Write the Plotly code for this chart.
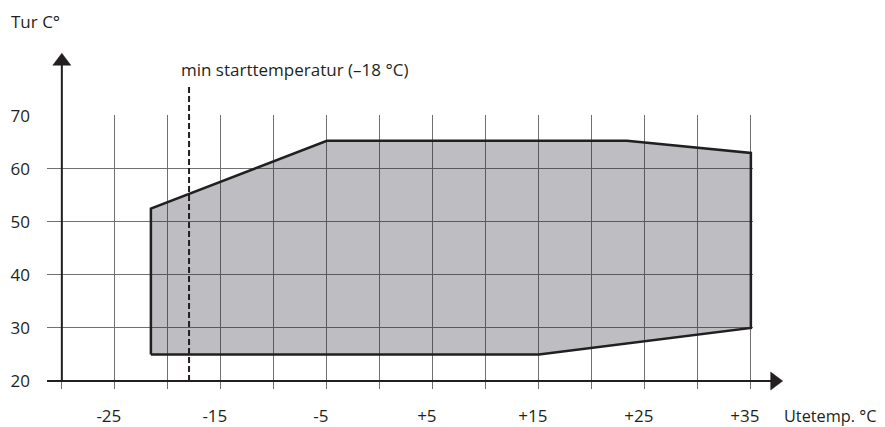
import plotly.graph_objects as go

# ---------------- data ----------------
envelope_outdoor = [-21.6, -21.6, -5, 23.3, 35, 35, 15, -21.6]
envelope_flow = [25, 52.5, 65.3, 65.3, 63, 30, 25, 25]
min_start_temp = -18
grid_x = [-30, -25, -20, -15, -10, -5, 0, 5, 10, 15, 20, 25, 30, 35]
labelled_x = [-25, -15, -5, 5, 15, 25, 35]
labelled_x_text = ["-25", "-15", "-5", "+5", "+15", "+25", "+35"]
y_ticks = [20, 30, 40, 50, 60, 70]
y_tick_text = ["20", "30", "40", "50", "60", "70"]

# ---------------- layout constants ----------------
# the page body has an 8px default margin, so the figure is sized to fit the window
OFF = 8
W, H = 885 - OFF, 427 - OFF
ML, MR, MT, MB = 47 - OFF, 132, 115 - OFF, 46
XR = [-31.4, 35.2]
YR = [20, 70.15]
FONT = "Open Sans"
FS = 17
INK = "#231f20"
GRID = "#707070"
PW, PH = W - ML - MR, H - MT - MB


def xp(v):
    return (v - XR[0]) / (XR[1] - XR[0])


def yp(v):
    return (v - YR[0]) / (YR[1] - YR[0])


def px_x(px):
    return (px - OFF - ML) / PW


def px_y(px):
    return 1 - (px - OFF - MT) / PH


y_axis_x = grid_x[0]
y_arrow_tip = 81.8     # data y of the y-axis arrow tip
x_arrow_tip = 38.0     # data x of the x-axis arrow tip
dash_top = 75.6
HEAD_LEN, HEAD_HALF = 12, 9   # arrow head size in pixels

tick_text = [labelled_x_text[labelled_x.index(v)] if v in labelled_x else "" for v in grid_x]

fig = go.Figure()

fig.add_trace(go.Scatter(
    x=envelope_outdoor, y=envelope_flow, mode="lines", fill="toself",
    fillcolor="rgba(35,38,52,0.3)", line=dict(color=INK, width=2.5),
    hoverinfo="skip", showlegend=False,
))

# arrow head paths in paper coordinates
ytx, yty = xp(y_axis_x), yp(y_arrow_tip)
y_head = (f"M {ytx},{yty} L {ytx - HEAD_HALF / PW},{yty - HEAD_LEN / PH} "
          f"L {ytx + HEAD_HALF / PW},{yty - HEAD_LEN / PH} Z")
xtx, xty = xp(x_arrow_tip), yp(y_ticks[0])
x_head = (f"M {xtx},{xty} L {xtx - HEAD_LEN / PW},{xty + HEAD_HALF / PH} "
          f"L {xtx - HEAD_LEN / PW},{xty - HEAD_HALF / PH} Z")

shapes = [
    # y axis line
    dict(type="line", xref="x", yref="paper", x0=y_axis_x, x1=y_axis_x,
         y0=yp(y_ticks[0]), y1=yty - (HEAD_LEN - 2) / PH, line=dict(color=INK, width=2), layer="above"),
    # x axis line to arrow
    dict(type="line", xref="paper", yref="paper", x0=0, x1=xtx - (HEAD_LEN - 2) / PW,
         y0=xty, y1=xty, line=dict(color=INK, width=2), layer="above"),
    dict(type="path", xref="paper", yref="paper", path=y_head,
         fillcolor=INK, line=dict(color=INK, width=0.5), layer="above"),
    dict(type="path", xref="paper", yref="paper", path=x_head,
         fillcolor=INK, line=dict(color=INK, width=0.5), layer="above"),
    # min start temperature dashed line
    dict(type="line", xref="x", yref="paper", x0=min_start_temp, x1=min_start_temp,
         y0=yp(y_ticks[0]), y1=yp(dash_top), line=dict(color=INK, width=2, dash="6px,3px"),
         layer="above"),
]

annotations = [
    dict(text="Tur C°", xref="paper", yref="paper", x=px_x(9), y=px_y(21),
         xanchor="left", yanchor="middle",
         showarrow=False, font=dict(family=FONT, size=FS, color=INK)),
    dict(text="min starttemperatur (–18 °C)", xref="x", yref="paper", x=min_start_temp,
         y=px_y(69), xanchor="left", yanchor="middle", xshift=-10,
         showarrow=False, font=dict(family=FONT, size=FS, color=INK)),
    dict(text="Utetemp. °C", xref="paper", yref="paper", x=px_x(782), y=px_y(416),
         xanchor="left", yanchor="middle",
         showarrow=False, font=dict(family=FONT, size=16.3, color=INK)),
]

fig.update_layout(
    width=W, height=H, margin=dict(l=ML, r=MR, t=MT, b=MB, pad=0, autoexpand=False),
    paper_bgcolor="white", plot_bgcolor="white", showlegend=False,
    shapes=shapes, annotations=annotations,
    font=dict(family=FONT, size=FS, color=INK),
)
fig.update_xaxes(
    range=XR, tickmode="array", tickvals=grid_x, ticktext=tick_text,
    showgrid=True, gridcolor=GRID, gridwidth=1, zeroline=False,
    showline=False,
    ticks="outside", ticklen=7, tickcolor=GRID, tickwidth=1,
    ticklabelstandoff=13, ticklabelshift=-6,
    tickfont=dict(family=FONT, size=FS, color=INK), fixedrange=True,
)
fig.update_yaxes(
    range=YR, tickmode="array", tickvals=y_ticks, ticktext=y_tick_text,
    showgrid=True, gridcolor=GRID, gridwidth=1, zeroline=False, showline=False,
    ticks="", ticklabelstandoff=16,
    tickfont=dict(family=FONT, size=FS, color=INK), fixedrange=True,
)

fig.write_html("out.html", config={"displayModeBar": False})
